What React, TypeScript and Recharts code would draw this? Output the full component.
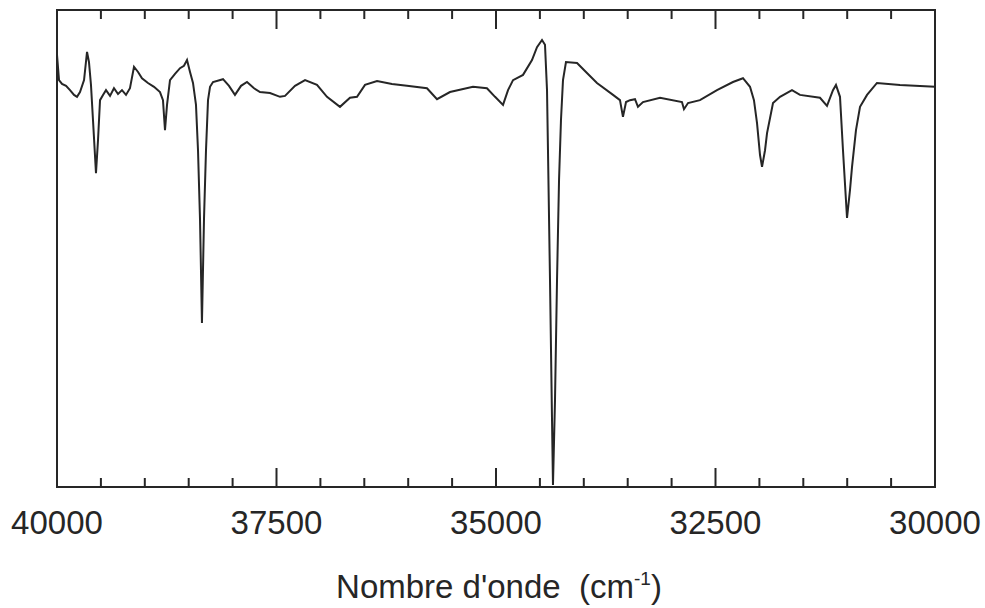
import { LineChart, Line, XAxis, YAxis, ReferenceArea } from 'recharts'

// wavenumber (cm-1) from left to right
const wavenumbers = [
  40000, 39977, 39943, 39897, 39852, 39806, 39772, 39738, 39692, 39658,
  39636, 39613, 39590, 39556, 39533, 39510, 39476, 39442, 39396, 39351,
  39305, 39260, 39214, 39169, 39123, 39077, 39032, 38964, 38895, 38827,
  38793, 38770, 38747, 38713, 38656, 38599, 38554, 38519, 38485, 38451,
  38417, 38394, 38371, 38349, 38326, 38303, 38280, 38257, 38223, 38109,
  38041, 37973, 37904, 37836, 37756, 37688, 37574, 37460, 37403, 37289,
  37175, 37039, 36925, 36777, 36663, 36583, 36492, 36355, 36185, 36014,
  35786, 35672, 35524, 35262, 35103, 35011, 34920, 34863, 34806, 34692,
  34590, 34533, 34476, 34442, 34419, 34408, 34385, 34362, 34351, 34328,
  34305, 34282, 34260, 34237, 34203, 34077, 33964, 33850, 33667, 33588,
  33554, 33519, 33474, 33417, 33383, 33326, 33132, 32882, 32859, 32813,
  32677, 32483, 32301, 32187, 32107, 32062, 32027, 31993, 31970, 31936,
  31913, 31845, 31765, 31629, 31538, 31310, 31230, 31162, 31128, 31082,
  31048, 31002, 30968, 30945, 30900, 30854, 30774, 30661, 30399, 30000,
]

// transmission (arbitrary units, 0 = bottom of frame, 100 = top)
const transmission = [
  90.6, 85.3, 84.5, 84.1, 83.2, 82.2, 81.8, 82.8, 85.3, 91.2,
  89.1, 84.3, 76.9, 65.8, 72.7, 81.1, 82.2, 83.2, 82.0, 83.6,
  82.4, 83.2, 82.2, 83.6, 88.1, 87.0, 85.7, 84.7, 83.9, 82.8,
  81.1, 74.8, 80.1, 85.3, 86.6, 87.8, 88.3, 89.5, 87.0, 84.7,
  80.1, 70.6, 56.0, 34.4, 56.0, 70.6, 81.1, 83.9, 84.9, 85.5,
  84.1, 82.2, 84.1, 84.9, 83.6, 82.8, 82.6, 81.8, 82.0, 84.1,
  85.3, 84.3, 81.8, 79.7, 81.6, 81.8, 84.3, 85.1, 84.5, 84.1,
  83.6, 81.3, 82.8, 83.9, 83.6, 81.8, 80.1, 83.2, 85.3, 86.4,
  89.5, 92.2, 93.7, 92.7, 83.2, 70.6, 43.4, 14.0, 0.4, 18.2,
  43.4, 64.4, 76.9, 85.3, 89.1, 88.9, 86.8, 84.7, 82.2, 81.1,
  77.6, 80.7, 81.1, 81.3, 79.7, 80.7, 81.6, 80.7, 79.2, 80.5,
  81.1, 83.2, 84.9, 85.7, 83.9, 81.1, 76.3, 69.6, 67.1, 70.6,
  74.2, 80.5, 81.8, 83.2, 82.2, 81.6, 79.9, 83.2, 84.3, 81.8,
  70.6, 56.4, 62.3, 67.1, 74.8, 79.7, 82.2, 84.7, 84.3, 83.9,
]

const xTicks = [
  40000, 39500, 39000, 38500, 38000, 37500, 37000, 36500, 36000, 35500,
  35000, 34500, 34000, 33500, 33000, 32500, 32000, 31500, 31000, 30500, 30000,
]
const labelledTicks = [40000, 37500, 35000, 32500, 30000]

const data = wavenumbers.map((wn, i) => ({ wn, t: transmission[i] }))

const FONT = '"Liberation Sans", Arial, Helvetica, sans-serif'
const INK = '#262626'
const TOP = 10

function FrameTick({ x, y, payload }: any) {
  const major = labelledTicks.includes(payload.value)
  const len = major ? 19 : 9
  return (
    <g>
      <line x1={x} y1={y} x2={x} y2={y - len} stroke={INK} strokeWidth={2} />
      {/* same tick mirrored on the top edge of the frame */}
      <line x1={x} y1={TOP} x2={x} y2={TOP + len} stroke={INK} strokeWidth={2} />
      {major && (
        <text x={x} y={y + 47} textAnchor="middle" fontFamily={FONT} fontSize={33} fill={INK}>
          {payload.value}
        </text>
      )}
    </g>
  )
}

function AxisTitle() {
  return (
    <text x={499} y={598} textAnchor="middle" fontFamily={FONT} fontSize={33} fill={INK}>
      {"Nombre d'onde\u00a0\u00a0(cm"}
      <tspan dy={-13} fontSize={19}>-1</tspan>
      <tspan dy={13}>)</tspan>
    </text>
  )
}

export default function App() {
  return (
    <div style={{ position: 'absolute', left: 0, top: 0, background: '#fff' }}>
      <LineChart
        width={985}
        height={608}
        data={data}
        margin={{ top: TOP, right: 50, bottom: 0, left: 57 }}
      >
        <XAxis
          dataKey="wn"
          type="number"
          domain={[30000, 40000]}
          reversed
          ticks={xTicks}
          interval={0}
          height={121}
          tickSize={0}
          tickMargin={0}
          axisLine={false}
          tickLine={false}
          tick={FrameTick}
          label={{ content: AxisTitle }}
        />
        <YAxis hide domain={[0, 100]} />
        <ReferenceArea
          x1={40000}
          x2={30000}
          y1={0}
          y2={100}
          fill="none"
          stroke={INK}
          strokeWidth={2}
          ifOverflow="visible"
        />
        <Line
          type="linear"
          dataKey="t"
          stroke={INK}
          strokeWidth={2}
          dot={false}
          isAnimationActive={false}
        />
      </LineChart>
    </div>
  )
}
